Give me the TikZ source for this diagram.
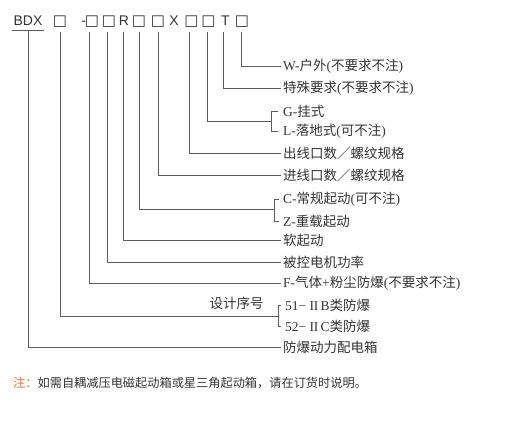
\documentclass[tikz,border=0pt]{standalone}
\usepackage{fontspec}
\setmainfont{Noto Sans CJK SC}
\newfontfamily\lt{Liberation Serif}
\newfontfamily\hdr{Liberation Sans}
\newfontfamily\sym{DejaVu Sans}
\definecolor{txt}{HTML}{333333}
\definecolor{ln}{HTML}{5E5E5E}
\definecolor{notec}{HTML}{F07030}
\begin{document}
\begin{tikzpicture}[x=1pt,y=-1pt,
  lab/.style={anchor=west,inner sep=2pt,font=\fontsize{13.5}{14}\selectfont,text=txt},
  hd/.style={anchor=base,inner xsep=0pt,inner ysep=6.5pt,text depth=0pt,font=\hdr\fontsize{14}{14}\selectfont,text=txt},
  bx/.style={hd,font=\sym\fontsize{15}{15}\selectfont},
  wire/.style={draw=ln,line width=0.9pt}]
\useasboundingbox (0,0) rectangle (517,426);
% header row
\node[hd,inner ysep=5pt,inner xsep=1pt] (bdx) at (28,25) {BDX};
\node[bx] (b1) at (60,25) {□};
\node[hd] (dash) at (83.7,25) {-};
\node[bx] (b2) at (92,25) {□};
\node[bx] (b3) at (109,25) {□};
\node[hd] (r) at (124,25) {R};
\node[bx] (b4) at (139,25) {□};
\node[bx] (b5) at (158,25) {□};
\node[hd] (x) at (174,25) {X};
\node[bx] (b6) at (191.5,25) {□};
\node[bx] (b7) at (208.5,25) {□};
\node[hd] (t) at (225.5,25) {T};
\node[bx] (b8) at (242,25) {□};
% labels
\node[lab] (lW) at (281,66.7) {{\lt W-}户外{\lt (}不要求不注{\lt )}};
\node[lab] (lT) at (281,88.3) {特殊要求{\lt (}不要求不注{\lt )}};
\node[lab] (lG) at (281,111) {{\lt G-}挂式};
\node[lab] (lL) at (281,131.5) {{\lt L-}落地式{\lt (}可不注{\lt )}};
\node[lab] (lOut) at (281,153.5) {出线口数／螺纹规格};
\node[lab] (lIn) at (281,175) {进线口数／螺纹规格};
\node[lab] (lC) at (281,199.5) {{\lt C-}常规起动{\lt (}可不注{\lt )}};
\node[lab] (lZ) at (281,221) {{\lt Z-}重载起动};
\node[lab] (lR) at (281,240.5) {软起动};
\node[lab] (lP) at (281,262) {被控电机功率};
\node[lab] (lF) at (281,283) {{\lt F-}气体{\lt +}粉尘防爆{\lt (}不要求不注{\lt )}};
\node[lab] (l51) at (283,305.7) {{\lt 51− I\kern-0.3pt I\,B}类防爆};
\node[lab] (l52) at (283,326) {{\lt 52− I\kern-0.3pt I\,C}类防爆};
\node[lab] (lBox) at (281,347) {防爆动力配电箱};
\node[lab,anchor=center] (lSeq) at (236.7,303) {设计序号};
\node[anchor=west,inner sep=0pt,font=\fontsize{12.2}{12.2}\selectfont,text=txt] (note) at (13,382.7)
  {\textcolor{notec}{注：}如需自耦减压电磁起动箱或星三角起动箱，请在订货时说明。};
% bracket junctions
\coordinate (kGL) at (271.7,121.5);
\coordinate (kCZ) at (274.3,209.5);
\coordinate (kS) at (278.3,316);
% connectors
\draw[wire] (bdx.south west) -- (bdx.south east);
\draw[wire] (bdx.south) |- (lBox.west);
\draw[wire] (b1.south) |- (kS);
\draw[wire] ([xshift=-2.3pt]b2.south) |- (lF.west);
\draw[wire] ([xshift=-1.7pt]b3.south) |- (lP.west);
\draw[wire] ([xshift=-1pt]r.south) |- (lR.west);
\draw[wire] (b4.south) |- (kCZ);
\draw[wire] ([xshift=0.3pt]b5.south) |- (lIn.west);
\draw[wire] ([xshift=-1.8pt]b6.south) |- (lOut.west);
\draw[wire] ([xshift=-0.8pt]b7.south) |- (kGL);
\draw[wire] ([xshift=-1.8pt]t.south) |- (lT.west);
\draw[wire] ([xshift=-1pt]b8.south) |- (lW.west);
\draw[wire] ([xshift=-3.3pt]lG.west) -| (kGL) |- ([xshift=-3.3pt]lL.west);
\draw[wire] ([xshift=-2pt]lC.west) -| (kCZ) |- ([xshift=-2pt]lZ.west);
\draw[wire] ([xshift=-1.7pt]l51.west) -| (kS) |- ([xshift=-1.7pt]l52.west);
\end{tikzpicture}
\end{document}
